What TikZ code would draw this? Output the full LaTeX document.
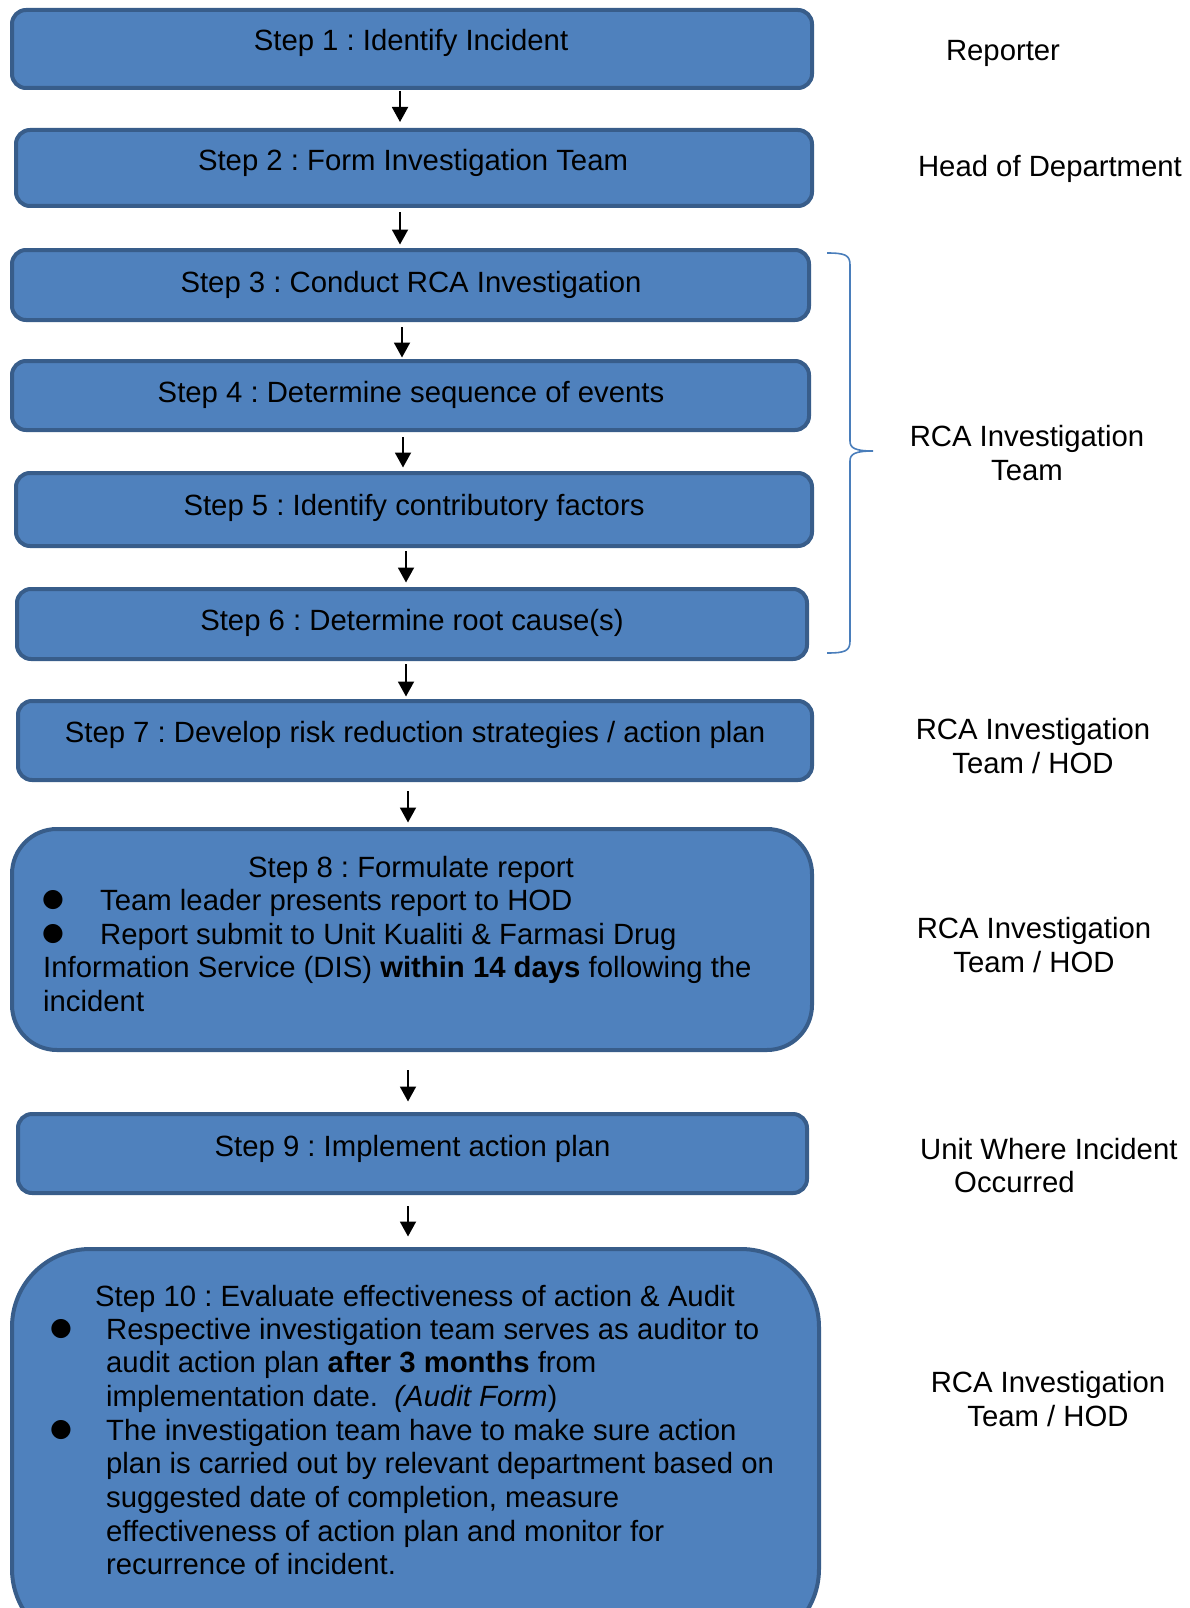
\documentclass[tikz,border=0pt]{standalone}
\usepackage{fontspec}
\setmainfont{Liberation Sans}
\newfontfamily\dejavu{DejaVu Sans}
\usetikzlibrary{arrows.meta}
\definecolor{boxfill}{HTML}{4F81BD}
\definecolor{boxline}{HTML}{385D8A}
\definecolor{bracecol}{HTML}{4A7EBB}
\frenchspacing
\begin{document}
\begin{tikzpicture}[x=1pt,y=-1pt,
  stepbox/.style={draw=boxline, line width=4pt, fill=boxfill, rounded corners=14pt, inner sep=0pt},
  txt/.style={inner sep=0pt, anchor=base, font=\fontsize{29.3}{33.5}\selectfont},
  ltxt/.style={txt, anchor=base west},
  bul/.style={inner sep=0pt, anchor=center, font=\dejavu\fontsize{25}{30}\selectfont},
  arr/.style={line width=1.9pt, -{Triangle[length=15pt,width=16pt]}},
  brace/.style={draw=bracecol, line width=1.6pt}
  ]
\path[use as bounding box] (0,0) rectangle (1190,1608);
\clip (0,0) rectangle (1190,1608);

% boxes
\node[stepbox, minimum width=800pt, minimum height=78pt] (s1) at (412,49) {};
\node[stepbox, minimum width=796pt, minimum height=76pt] (s2) at (414,168) {};
\node[stepbox, minimum width=797pt, minimum height=70pt] (s3) at (410.5,285) {};
\node[stepbox, minimum width=797pt, minimum height=69pt] (s4) at (410.5,395.5) {};
\node[stepbox, minimum width=796pt, minimum height=73pt] (s5) at (414,509.5) {};
\node[stepbox, minimum width=790pt, minimum height=70pt] (s6) at (412,624) {};
\node[stepbox, minimum width=794pt, minimum height=79pt] (s7) at (415,740.5) {};
\node[stepbox, rounded corners=45pt, minimum width=800pt, minimum height=221pt] (s8) at (412,939.5) {};
\node[stepbox, minimum width=789pt, minimum height=79pt] (s9) at (412.5,1153.5) {};
\node[stepbox, rounded corners=78pt, minimum width=807pt, minimum height=398pt] (s10) at (415.5,1448) {};

% box texts
\node[txt] (t1) at (411,51) {Step 1 : Identify Incident};
\node[txt] (t2) at (413,171) {Step 2 : Form Investigation Team};
\node[txt] (t3) at (411,292) {Step 3 : Conduct RCA Investigation};
\node[txt] (t4) at (411,402) {Step 4 : Determine sequence of events};
\node[txt] (t5) at (414,515) {Step 5 : Identify contributory factors};
\node[txt] (t6) at (412,630) {Step 6 : Determine root cause(s)};
\node[txt] (t7) at (415,742) {Step 7 : Develop risk reduction strategies / action plan};

\node[txt] (t8) at (411,877) {Step 8 : Formulate report};
\node[bul] (b81) at (53,900.5) {●};
\node[ltxt] (t81) at (100,910.5) {Team leader presents report to HOD};
\node[bul] (b82) at (53,934) {●};
\node[ltxt] (t82) at (100,944) {Report submit to Unit Kualiti \& Farmasi Drug};
\node[ltxt] (t83) at (43,977.5) {Information Service (DIS) \textbf{within 14 days} following the};
\node[ltxt] (t84) at (43,1011) {incident};

\node[txt] (t9) at (412.5,1156) {Step 9 : Implement action plan};

\node[ltxt] (t10) at (95,1306) {Step 10 : Evaluate effectiveness of action \& Audit};
\node[bul] (b101) at (61,1329) {●};
\node[ltxt] (t101) at (106,1339) {Respective investigation team serves as auditor to};
\node[ltxt] (t102) at (106,1372.7) {audit action plan \textbf{after 3 months} from};
\node[ltxt] (t103) at (106,1406.4) {implementation date.\ \ \textit{(Audit Form})};
\node[bul] (b102) at (61,1430.1) {●};
\node[ltxt] (t104) at (106,1440.1) {The investigation team have to make sure action};
\node[ltxt] (t105) at (106,1473.8) {plan is carried out by relevant department based on};
\node[ltxt] (t106) at (106,1507.5) {suggested date of completion, measure};
\node[ltxt] (t107) at (106,1541.2) {effectiveness of action plan and monitor for};
\node[ltxt] (t108) at (106,1574.9) {recurrence of incident.};

% arrows
\draw[arr, shorten <=1pt, shorten >=6pt] (s1.south -| 400,0) -- (s2.north -| 400,0);
\draw[arr, shorten <=4pt, shorten >=3.5pt] (s2.south -| 400,0) -- (s3.north -| 400,0);
\draw[arr, shorten <=5pt, shorten >=1.5pt] (s3.south -| 402,0) -- (s4.north -| 402,0);
\draw[arr, shorten <=5pt, shorten >=3.5pt] (s4.south -| 403,0) -- (s5.north -| 403,0);
\draw[arr, shorten <=3pt, shorten >=4.5pt] (s5.south -| 406,0) -- (s6.north -| 406,0);
\draw[arr, shorten <=3pt, shorten >=2.5pt] (s6.south -| 406,0) -- (s7.north -| 406,0);
\draw[arr, shorten <=9pt, shorten >=4.5pt] (s7.south -| 408,0) -- (s8.north -| 408,0);
\draw[arr, shorten <=18pt, shorten >=10.5pt] (s8.south -| 408,0) -- (s9.north -| 408,0);
\draw[arr, shorten <=11pt, shorten >=10.5pt] (s9.south -| 408,0) -- (s10.north -| 408,0);

% brace
\draw[brace] (827,253) .. controls (845,253) and (850,255) .. (850,265) -- (850,441)
  .. controls (850,448) and (855,451) .. (873,451)
  .. controls (855,451) and (850,454) .. (850,461) -- (850,641)
  .. controls (850,651) and (845,653) .. (827,653);

% role labels
\node[txt] (r1) at (1003,61) {Reporter};
\node[txt] (r2) at (1050,177) {Head of Department};
\node[txt] (r3a) at (1027,446) {RCA Investigation};
\node[txt] (r3b) at (1027,480) {Team};
\node[txt] (r7a) at (1033,739) {RCA Investigation};
\node[txt] (r7b) at (1033,773) {Team / HOD};
\node[txt] (r8a) at (1034,938) {RCA Investigation};
\node[txt] (r8b) at (1034,972) {Team / HOD};
\node[ltxt] (r9a) at (920,1159) {Unit Where Incident};
\node[ltxt] (r9b) at (954,1192) {Occurred};
\node[txt] (r10a) at (1048,1392) {RCA Investigation};
\node[txt] (r10b) at (1048,1426) {Team / HOD};
\end{tikzpicture}
\end{document}
